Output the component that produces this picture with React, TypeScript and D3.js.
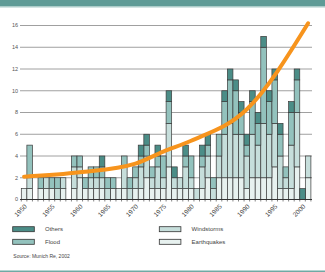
import React from "react";
import * as d3 from "d3";

const years: number[] = d3.range(1950, 2002);
// per-year counts (1950..2001)
const earthquakes = [1,1,0,1,1,1,0,1,0,1, 2,1,1,1,1,0,1,1,1,0, 1,1,2,1,1,1,3,1,1,1, 1,0,1,2,0,2,2,2,2,2, 1,2,2,2,2,3,1,1,1,3, 0,2];
const windstorms  = [0,1,0,0,1,0,1,1,0,2, 1,0,1,1,1,1,0,0,2,1, 1,2,2,1,2,1,4,1,1,2, 1,1,2,2,1,2,4,5,4,4, 3,4,3,5,4,4,3,1,4,5, 0,2];
const floods      = [0,3,0,1,0,1,1,0,0,1, 1,1,1,1,1,1,1,0,1,1, 1,1,1,1,1,2,2,0,0,1, 2,0,1,1,1,2,3,4,4,2, 1,3,2,7,3,4,2,1,3,3, 0,0];
const others      = [0,0,0,0,0,0,0,0,0,0, 0,0,0,0,1,0,0,0,0,0, 0,1,1,0,1,0,1,1,0,1, 0,0,1,1,0,0,1,1,1,1, 1,1,1,1,1,1,1,0,1,1, 1,0];

const trendYears = [1950, 1960, 1970, 1975, 1980, 1990, 2001];
const trendValues = [2.1, 2.5, 3.3, 4.4, 5.4, 8.3, 16.2];

const yTicks = [0, 2, 4, 6, 8, 10, 12, 14, 16];
const labelYears = [1950, 1955, 1960, 1965, 1970, 1975, 1980, 1985, 1990, 1995, 2000];

const seriesNames = ["Earthquakes", "Windstorms", "Flood", "Others"];
const seriesData = [earthquakes, windstorms, floods, others];
const colors: Record<string, string> = {
  Others: "#4b8d87",
  Flood: "#93c2bd",
  Windstorms: "#c6dedb",
  Earthquakes: "#e7f1ef",
};

const W = 325, H = 272;
const FONT = "'Liberation Sans', Arial, sans-serif";

export default function App() {
  const x = d3.scaleBand<number>().domain(years).range([21.3, 310.9]).paddingInner(0).paddingOuter(0);
  const y = d3.scaleLinear().domain([0, 16]).range([199.5, 25.5]);

  const table = years.map((yr, i) => {
    const row: any = { year: yr };
    seriesNames.forEach((s, k) => (row[s] = seriesData[k][i]));
    return row;
  });
  const stacked = d3.stack<any>().keys(seriesNames)(table);

  const line = d3
    .line<number>()
    .x((_, i) => (x(trendYears[i]) as number) + x.bandwidth() / 2)
    .y((v) => y(v))
    .curve(d3.curveMonotoneX);

  const gridX0 = 20, gridX1 = 312;

  const legendItems = [
    { name: "Others", lx: 12.7, ly: 226.7 },
    { name: "Flood", lx: 12.7, ly: 239.3 },
    { name: "Windstorms", lx: 159.3, ly: 226.7 },
    { name: "Earthquakes", lx: 159.3, ly: 239.3 },
  ];

  return (
    <svg width={W} height={H} style={{ position: "absolute", left: 0, top: 0, background: "#fff" }} fontFamily={FONT}>
      <rect x={0} y={0} width={W} height={6.5} fill="#5f9b96" />
      <rect x={0} y={6.5} width={W} height={1} fill="#a9ccc8" />

      {yTicks.filter((t) => t > 0).map((t) => (
        <line key={t} x1={gridX0} x2={gridX1} y1={y(t)} y2={y(t)} stroke="#a0a0a0" strokeWidth={1} />
      ))}
      {yTicks.map((t) => (
        <text key={"l" + t} x={18} y={y(t)} dy="0.35em" fontSize={5.5} fill="#555" textAnchor="end">
          {t}
        </text>
      ))}

      {stacked.map((layer) => (
        <g key={layer.key} fill={colors[layer.key]}>
          {layer.map((d, i) =>
            d[1] - d[0] > 0 ? (
              <rect
                key={i}
                x={x(years[i]) as number}
                y={y(d[1])}
                width={x.bandwidth()}
                height={y(d[0]) - y(d[1])}
                stroke="#3a3a3a"
                strokeWidth={0.7}
              />
            ) : null
          )}
        </g>
      ))}

      <line x1={gridX0} x2={gridX1} y1={y(0)} y2={y(0)} stroke="#333" strokeWidth={1} />
      {years.concat([2002]).map((yr, i) => {
        const xx = 21.3 + i * x.step();
        return <line key={"t" + yr} x1={xx} x2={xx} y1={y(0)} y2={y(0) + 2} stroke="#333" strokeWidth={0.6} />;
      })}

      {labelYears.map((yr) => {
        const cx = (x(yr) as number) + x.bandwidth() / 2 + 3.2;
        return (
          <text key={"x" + yr} transform={`translate(${cx},207) rotate(-45)`} fontSize={6.5} fill="#444" textAnchor="end">
            {yr}
          </text>
        );
      })}

      <path d={line(trendValues) || ""} fill="none" stroke="#f7941d" strokeWidth={4} strokeLinecap="round" strokeLinejoin="round" />

      {legendItems.map((it) => (
        <g key={it.name}>
          <rect x={it.lx} y={it.ly} width={21.6} height={5} fill={colors[it.name]} stroke="#333" strokeWidth={0.8} />
          <text x={it.lx + 32.3} y={it.ly + 2.5} dy="0.35em" fontSize={6} fill="#444">
            {it.name}
          </text>
        </g>
      ))}
      <text x={13.3} y={256.7} dy="0.35em" fontSize={5} fill="#444">
        Source: Munich Re, 2002
      </text>

      <rect x={0} y={270.5} width={W} height={1.5} fill="#6fa9a4" />
    </svg>
  );
}
